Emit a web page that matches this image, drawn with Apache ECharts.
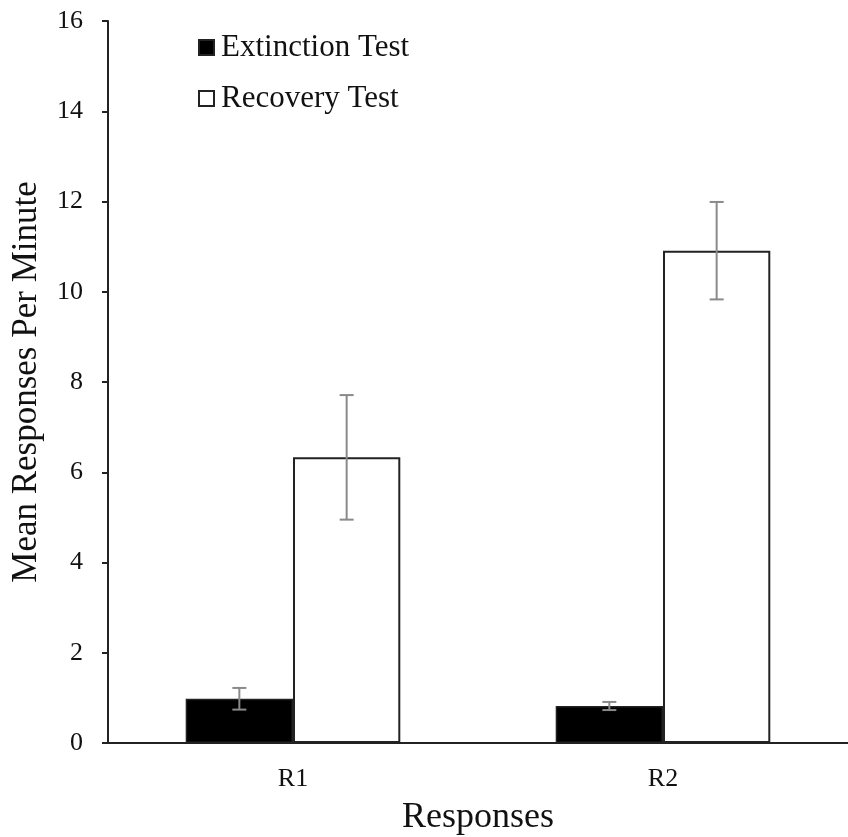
<!DOCTYPE html>
<html>
<head>
<meta charset="utf-8">
<script src="https://cdn.jsdelivr.net/npm/echarts@6/dist/echarts.min.js"></script>
<style>
  html, body { margin: 0; padding: 0; background: #fff; }
  #chart { width: 848px; height: 837px; }
</style>
</head>
<body>
<div id="chart"></div>
<script>
// Response categories
const categories = ['R1', 'R2'];
// Mean responses per minute and their error (±) per test
const extinctionMeans = [0.98, 0.82];
const extinctionErr = [0.24, 0.09];
const recoveryMeans = [6.33, 10.91];
const recoveryErr = [1.38, 1.08];
// Y-axis ticks
const yMin = 0, yMax = 16, yStep = 2;

const serif = '"Liberation Serif", "Times New Roman", serif';
const BAR_FRAC = 0.29;

function errorData(means, errs) {
  return means.map((m, i) => [i, m - errs[i], m + errs[i]]);
}

// Draws a vertical whisker with caps, shifted onto the matching bar
function errorRenderer(side) {
  return function (params, api) {
    const idx = api.value(0);
    const band = api.size([1, 0])[0];
    const dx = side * band * BAR_FRAC / 2;
    const lo = api.coord([idx, api.value(1)]);
    const hi = api.coord([idx, api.value(2)]);
    const x = lo[0] + dx;
    const cap = 7;
    const style = { stroke: '#8a8a8a', lineWidth: 2 };
    return {
      type: 'group',
      children: [
        { type: 'line', shape: { x1: x, y1: hi[1], x2: x, y2: lo[1] }, style },
        { type: 'line', shape: { x1: x - cap, y1: hi[1], x2: x + cap, y2: hi[1] }, style },
        { type: 'line', shape: { x1: x - cap, y1: lo[1], x2: x + cap, y2: lo[1] }, style }
      ]
    };
  };
}

const chart = echarts.init(document.getElementById('chart'), null, { renderer: 'canvas' });
chart.setOption({
  backgroundColor: '#fff',
  animation: false,
  grid: {
    left: 108, right: 0, top: 21, bottom: 94,
    containLabel: false,
    outerBoundsMode: 'none'
  },
  legend: {
    orient: 'vertical',
    left: 198,
    top: 32,
    padding: 0,
    itemWidth: 15,
    itemHeight: 15,
    itemGap: 20,
    icon: 'rect',
    data: ['Extinction Test', 'Recovery Test'],
    textStyle: { fontFamily: serif, fontSize: 31, color: '#111', padding: [0, 0, 0, 2] }
  },
  xAxis: {
    type: 'category',
    data: categories,
    name: 'Responses',
    nameLocation: 'middle',
    nameGap: 57,
    nameTextStyle: { fontFamily: serif, fontSize: 36, color: '#111' },
    axisLine: { lineStyle: { color: '#222', width: 2 } },
    axisTick: { show: false },
    axisLabel: { fontFamily: serif, fontSize: 26, color: '#111', margin: 23 }
  },
  yAxis: {
    type: 'value',
    min: yMin,
    max: yMax,
    interval: yStep,
    name: 'Mean Responses Per Minute',
    nameLocation: 'middle',
    nameGap: 64,
    nameTextStyle: { fontFamily: serif, fontSize: 35, color: '#111' },
    axisLine: { show: true, lineStyle: { color: '#222', width: 2 } },
    axisTick: { show: true, length: 6, lineStyle: { color: '#222', width: 2 } },
    axisLabel: { fontFamily: serif, fontSize: 26, color: '#111', margin: 25 },
    splitLine: { show: false }
  },
  series: [
    {
      name: 'Extinction Test',
      type: 'bar',
      data: extinctionMeans,
      barWidth: (BAR_FRAC * 100) + '%',
      barGap: '0%',
      itemStyle: { color: '#000', borderColor: '#222', borderWidth: 1.5 }
    },
    {
      name: 'Recovery Test',
      type: 'bar',
      data: recoveryMeans,
      barWidth: (BAR_FRAC * 100) + '%',
      barGap: '0%',
      itemStyle: { color: '#fff', borderColor: '#222', borderWidth: 2 }
    },
    {
      type: 'custom',
      renderItem: errorRenderer(-1),
      data: errorData(extinctionMeans, extinctionErr),
      z: 5,
      silent: true
    },
    {
      type: 'custom',
      renderItem: errorRenderer(1),
      data: errorData(recoveryMeans, recoveryErr),
      z: 5,
      silent: true
    }
  ]
});
</script>
</body>
</html>
